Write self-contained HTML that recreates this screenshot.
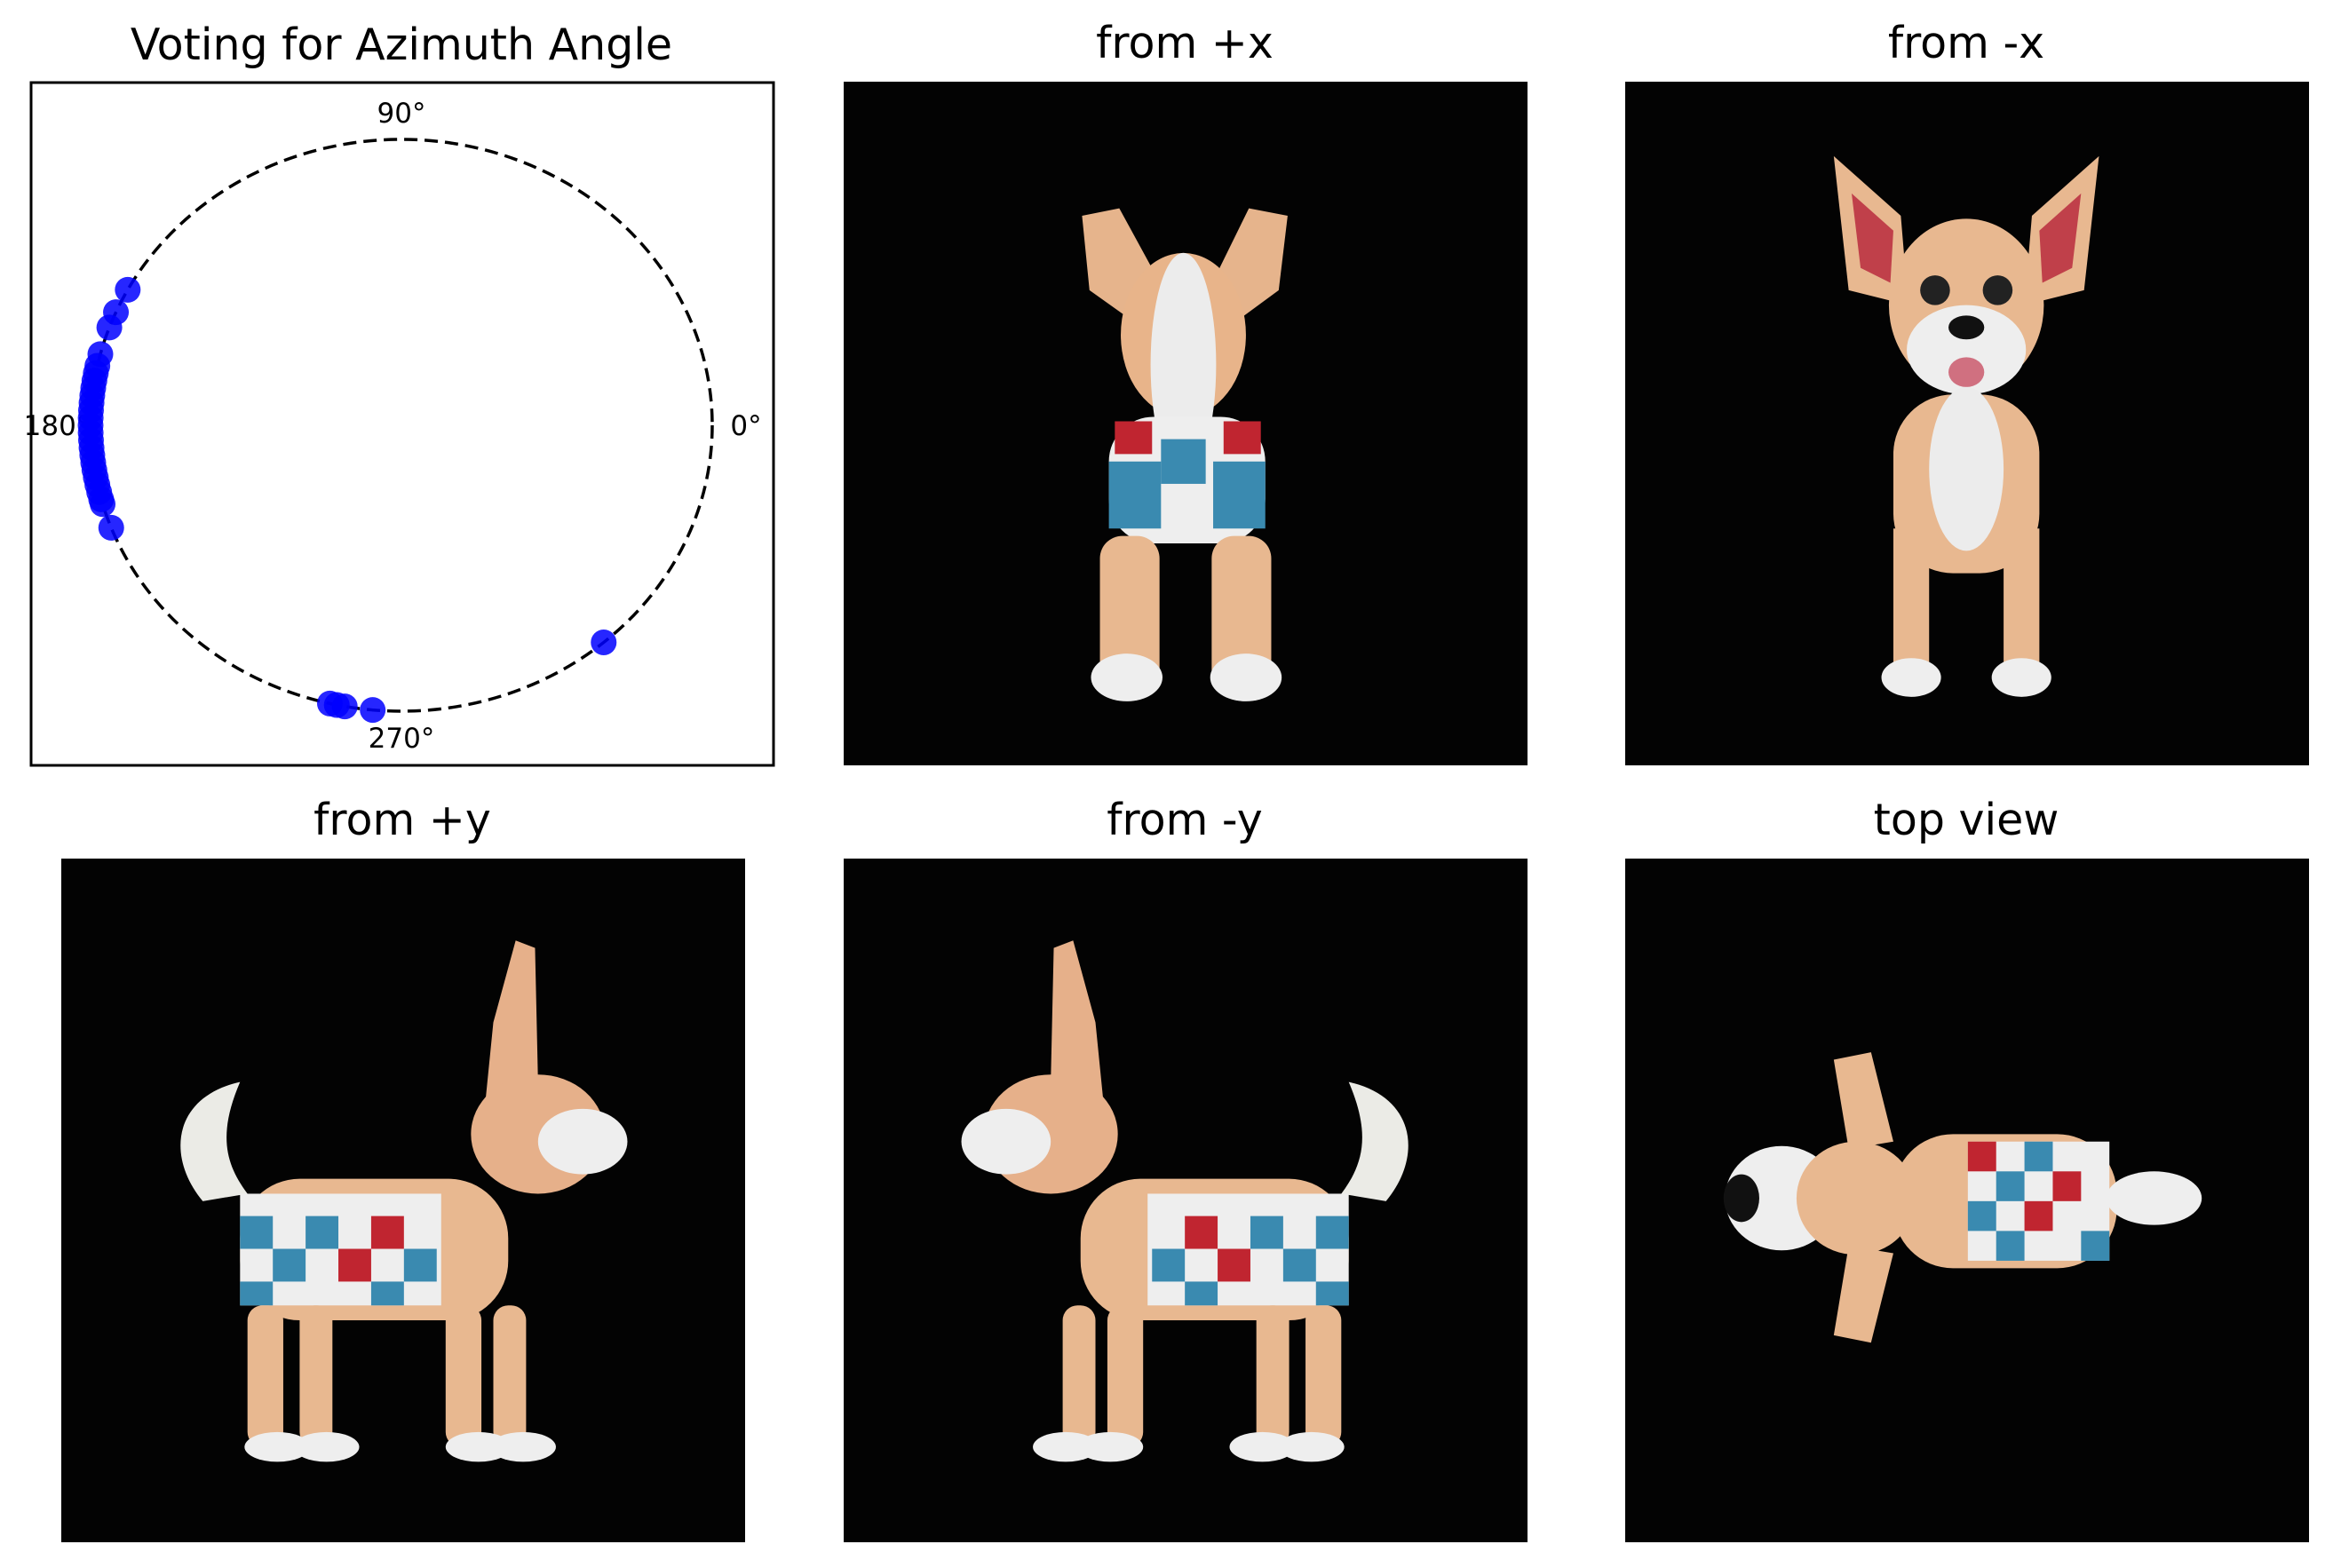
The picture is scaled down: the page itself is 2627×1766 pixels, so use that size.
<!DOCTYPE html>
<html><head><meta charset="utf-8"><style>
html,body{margin:0;padding:0;background:#fff;}
body{width:2627px;height:1766px;position:relative;overflow:hidden;font-family:"DejaVu Sans","Liberation Sans",sans-serif;}
.t{position:absolute;font-size:49px;color:#000;transform:translateX(-50%);white-space:nowrap;line-height:1;}
.p{position:absolute;width:770px;height:770px;background:#030303;}
</style></head><body>
<svg width="2627" height="1766" style="position:absolute;left:0;top:0">
  <rect x="35" y="93" width="836" height="769" fill="#fff" stroke="#000" stroke-width="3"/>
  <text x="452" y="67" font-size="49" text-anchor="middle" font-family="DejaVu Sans, sans-serif">Voting for Azimuth Angle</text>
  <g id="ring"></g>
  <g id="labels" font-size="31" font-family="DejaVu Sans, sans-serif"></g>
  <g id="pts"></g>
</svg>

<div class="t" style="left:1334px;top:24px">from +x</div>
<div class="t" style="left:2214px;top:24px">from -x</div>
<div class="t" style="left:453px;top:899px">from +y</div>
<div class="t" style="left:1334px;top:899px">from -y</div>
<div class="t" style="left:2214px;top:899px">top view</div>

<svg class="p" style="left:950px;top:92px" viewBox="0 0 459 459">
  <rect width="459" height="459" fill="#030303"/>
  <polygon points="160,90 185,85 215,140 200,165 165,140" fill="#e6b48c"/>
  <polygon points="298,90 272,85 245,140 258,165 292,140" fill="#e6b48c"/>
  <ellipse cx="228" cy="170" rx="42" ry="55" fill="#e8b48a"/>
  <ellipse cx="228" cy="190" rx="22" ry="75" fill="#ececec"/>
  <rect x="178" y="225" width="105" height="85" rx="30" fill="#eee"/>
  <rect x="178" y="255" width="35" height="45" fill="#3a8ab0"/><rect x="213" y="240" width="30" height="30" fill="#3a8ab0"/><rect x="248" y="255" width="35" height="45" fill="#3a8ab0"/>
  <rect x="182" y="228" width="25" height="22" fill="#c02530"/><rect x="255" y="228" width="25" height="22" fill="#c02530"/>
  <rect x="172" y="305" width="40" height="105" rx="15" fill="#e8b890"/><rect x="247" y="305" width="40" height="105" rx="15" fill="#e8b890"/>
  <ellipse cx="190" cy="400" rx="24" ry="16" fill="#eee"/><ellipse cx="270" cy="400" rx="24" ry="16" fill="#eee"/>
</svg>

<svg class="p" style="left:1830px;top:92px" viewBox="0 0 459 459">
  <rect width="459" height="459" fill="#030303"/>
  <polygon points="140,50 185,90 190,150 150,140" fill="#e8b890"/><polygon points="152,75 180,100 178,135 158,125" fill="#c0404a"/>
  <polygon points="318,50 273,90 268,150 308,140" fill="#e8b890"/><polygon points="306,75 278,100 280,135 300,125" fill="#c0404a"/>
  <ellipse cx="229" cy="150" rx="52" ry="58" fill="#e8b890"/>
  <ellipse cx="229" cy="180" rx="40" ry="30" fill="#eee"/>
  <circle cx="208" cy="140" r="10" fill="#222"/><circle cx="250" cy="140" r="10" fill="#222"/>
  <ellipse cx="229" cy="165" rx="12" ry="8" fill="#111"/><ellipse cx="229" cy="195" rx="12" ry="10" fill="#d07080"/>
  <rect x="180" y="210" width="98" height="120" rx="40" fill="#e8b890"/>
  <ellipse cx="229" cy="260" rx="25" ry="55" fill="#ececec"/>
  <rect x="180" y="300" width="24" height="100" fill="#e8b890"/><rect x="254" y="300" width="24" height="100" fill="#e8b890"/>
  <ellipse cx="192" cy="400" rx="20" ry="13" fill="#eee"/><ellipse cx="266" cy="400" rx="20" ry="13" fill="#eee"/>
</svg>

<svg class="p" style="left:69px;top:967px" viewBox="0 0 459 459">
  <rect width="459" height="459" fill="#030303"/>
  <g id="sideDog">
  <path d="M95,230 C70,200 75,160 120,150 C105,185 110,205 125,225 Z" fill="#ebebe6"/>
  <polygon points="305,55 318,60 320,150 285,160 290,110" fill="#e6b08a"/>
  <ellipse cx="320" cy="185" rx="45" ry="40" fill="#e6b08a"/>
  <ellipse cx="350" cy="190" rx="30" ry="22" fill="#eee"/>
  <rect x="120" y="215" width="180" height="95" rx="40" fill="#e8b890"/>
  <rect x="120" y="225" width="135" height="75" fill="#eee"/>
  <rect x="120" y="240" width="22" height="22" fill="#3a8ab0"/><rect x="164" y="240" width="22" height="22" fill="#3a8ab0"/><rect x="208" y="240" width="22" height="22" fill="#c02530"/><rect x="142" y="262" width="22" height="22" fill="#3a8ab0"/><rect x="186" y="262" width="22" height="22" fill="#c02530"/><rect x="230" y="262" width="22" height="22" fill="#3a8ab0"/><rect x="120" y="284" width="22" height="16" fill="#3a8ab0"/><rect x="208" y="284" width="22" height="16" fill="#3a8ab0"/>
  <rect x="125" y="300" width="24" height="95" rx="10" fill="#e8b890"/><rect x="160" y="300" width="22" height="95" rx="10" fill="#e8b890"/>
  <rect x="258" y="300" width="24" height="95" rx="10" fill="#e8b890"/><rect x="290" y="300" width="22" height="95" rx="10" fill="#e8b890"/>
  <ellipse cx="145" cy="395" rx="22" ry="10" fill="#eee"/><ellipse cx="178" cy="395" rx="22" ry="10" fill="#eee"/><ellipse cx="280" cy="395" rx="22" ry="10" fill="#eee"/><ellipse cx="310" cy="395" rx="22" ry="10" fill="#eee"/>
  </g>
</svg>

<svg class="p" style="left:950px;top:967px" viewBox="0 0 459 459">
  <rect width="459" height="459" fill="#030303"/>
  <use href="#sideDog" transform="translate(459,0) scale(-1,1)"/>
</svg>

<svg class="p" style="left:1830px;top:967px" viewBox="0 0 459 459">
  <rect width="459" height="459" fill="#030303"/>
  <ellipse cx="105" cy="228" rx="38" ry="35" fill="#eee"/><ellipse cx="78" cy="228" rx="12" ry="16" fill="#111"/>
  <ellipse cx="155" cy="228" rx="40" ry="38" fill="#e8b890"/>
  <polygon points="140,135 165,130 180,190 150,195" fill="#e8b890"/><polygon points="140,320 165,325 180,265 150,260" fill="#e8b890"/>
  <rect x="180" y="185" width="150" height="90" rx="40" fill="#e8b890"/>
  <rect x="230" y="190" width="95" height="80" fill="#eee"/>
  <rect x="230" y="190" width="19" height="20" fill="#c02530"/><rect x="268" y="190" width="19" height="20" fill="#3a8ab0"/><rect x="249" y="210" width="19" height="20" fill="#3a8ab0"/><rect x="287" y="210" width="19" height="20" fill="#c02530"/><rect x="230" y="230" width="19" height="20" fill="#3a8ab0"/><rect x="268" y="230" width="19" height="20" fill="#c02530"/><rect x="249" y="250" width="19" height="20" fill="#3a8ab0"/><rect x="306" y="250" width="19" height="20" fill="#3a8ab0"/>
  <ellipse cx="355" cy="228" rx="32" ry="18" fill="#eee"/>
</svg>

<script>
// Azimuth votes in degrees
const voteAngles = [151.7, 156.7, 160, 165.6, 168, 169.5, 171, 172.5, 174, 175.5, 177, 178.5, 180, 181.5, 183, 184.5, 186, 187.5, 189, 190.5, 192, 193.5, 195, 196, 201, 256.7, 258, 259.5, 264.7, 310.6];
const tickAngles = [0, 90, 180, 270];
const tickLabels = ["0°", "90°", "180°", "270°"];

const NS = "http://www.w3.org/2000/svg";
const cx = 452, cy = 479, rx = 350, ry = 322;
const px = a => cx + rx * Math.cos(a * Math.PI / 180);
const py = a => cy - ry * Math.sin(a * Math.PI / 180);

const ring = document.createElementNS(NS, "ellipse");
ring.setAttribute("cx", cx); ring.setAttribute("cy", cy);
ring.setAttribute("rx", rx); ring.setAttribute("ry", ry);
ring.setAttribute("fill", "none"); ring.setAttribute("stroke", "#000");
ring.setAttribute("stroke-width", "3.5"); ring.setAttribute("stroke-dasharray", "15 8");


document.getElementById("ring").appendChild(ring);

const lab = document.getElementById("labels");
tickAngles.forEach((a, i) => {
  const t = document.createElementNS(NS, "text");
  const offX = 38, offY = 30;
  let x = cx + (rx + offX) * Math.cos(a * Math.PI / 180);
  let y = cy - (ry + offY) * Math.sin(a * Math.PI / 180) + 11;
  t.setAttribute("x", x); t.setAttribute("y", y);
  t.setAttribute("text-anchor", "middle");
  t.textContent = tickLabels[i];
  
  
  lab.appendChild(t);
});

const g = document.getElementById("pts");
voteAngles.forEach(a => {
  const c = document.createElementNS(NS, "circle");
  c.setAttribute("cx", px(a)); c.setAttribute("cy", py(a));
  c.setAttribute("r", 14.5); c.setAttribute("fill", "#0000ff");
  c.setAttribute("fill-opacity", "0.85");
  
  
  g.appendChild(c);
});
</script>
</body></html>
